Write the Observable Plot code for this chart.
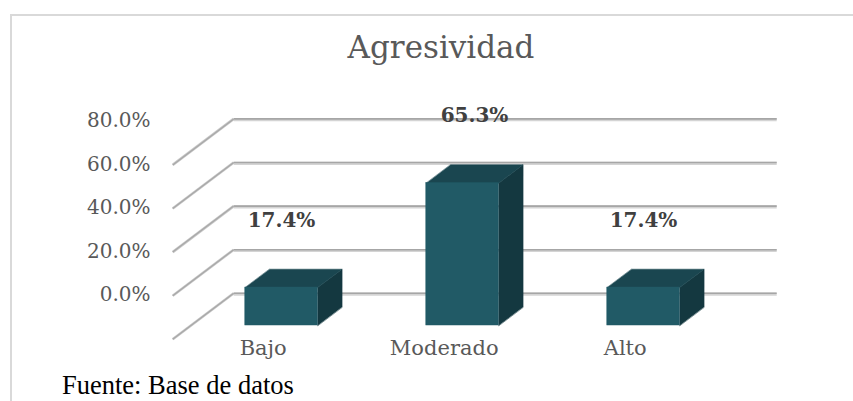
<!DOCTYPE html>
<html>
<head>
<meta charset="utf-8">
<script src="https://cdn.jsdelivr.net/npm/d3@7"></script>
<script src="https://cdn.jsdelivr.net/npm/@observablehq/plot@0.6"></script>
<style>
  html, body { margin: 0; padding: 0; background: #fff; }
  #page { position: relative; width: 853px; height: 401px; overflow: hidden; background: #fff; }
  #frame { position: absolute; left: 10px; top: 14px; width: 900px; height: 500px; border: 2px solid #d9d9d9; box-sizing: border-box; }
  #title { position: absolute; left: 0; width: 882px; top: 32px; text-align: center; font-family: "DejaVu Serif", serif; font-size: 31px; line-height: 1; color: #595959; }
  #chart { position: absolute; left: 0; top: 75px; }
  #caption { position: absolute; left: 62px; top: 372px; font-family: "Liberation Serif", "Times New Roman", serif; font-size: 26.5px; line-height: 1; color: #000; white-space: nowrap; }
</style>
</head>
<body>
<div id="page">
  <div id="frame"></div>
  <div id="title">Agresividad</div>
  <div id="chart"></div>
  <div id="caption">Fuente: Base de datos</div>
</div>
<script>
// ---- data ----
const categories = ["Bajo", "Moderado", "Alto"];
const values = [17.4, 65.3, 17.4];
const yTicks = [0, 20, 40, 60, 80];

// ---- geometry / style ----
const W = 853, H = 295;
const xDomain = [-0.5, 2.5], xRange = [190.5, 733.5];
const yDomain = [0, 80], yRange = [250, 250 - 80 * 2.18];
const kx = (xRange[1] - xRange[0]) / (xDomain[1] - xDomain[0]);
const ky = (yRange[0] - yRange[1]) / (yDomain[1] - yDomain[0]);
const DEPTH_X = 61, DEPTH_Y = 46;           // full depth of the 3D box in pixels
const proj = (d) => ({dx: d * DEPTH_X / kx, dy: d * DEPTH_Y / ky}); // depth offset in data units
const FRONT = proj(-0.3), BACK = proj(0.7), BAR = proj(0.4);
const HALF = 0.2;

const bars = categories.map((c, i) => ({cat: c, i, v: values[i]}));
const sideFaces = bars.flatMap(b => [
  {cat: b.cat, x: b.i + HALF, y: 0},
  {cat: b.cat, x: b.i + HALF, y: b.v},
  {cat: b.cat, x: b.i + HALF + BAR.dx, y: b.v + BAR.dy},
  {cat: b.cat, x: b.i + HALF + BAR.dx, y: BAR.dy}
]);
const topFaces = bars.flatMap(b => [
  {cat: b.cat, x: b.i - HALF, y: b.v},
  {cat: b.cat, x: b.i + HALF, y: b.v},
  {cat: b.cat, x: b.i + HALF + BAR.dx, y: b.v + BAR.dy},
  {cat: b.cat, x: b.i - HALF + BAR.dx, y: b.v + BAR.dy}
]);
const maxIdx = values.indexOf(d3.max(values));

const chart = Plot.plot({
  width: W,
  height: H,
  marginLeft: xRange[0],
  marginRight: W - xRange[1],
  marginTop: yRange[1],
  marginBottom: H - yRange[0],
  x: {type: "linear", domain: xDomain, range: xRange, axis: null},
  y: {type: "linear", domain: yDomain, range: yRange, axis: null},
  style: {background: "transparent", overflow: "visible"},
  marks: [
    // back wall gridlines (shadow + line)
    Plot.link(yTicks, {x1: xDomain[0] + BACK.dx, x2: xDomain[1] + BACK.dx, y1: d => d + BACK.dy, y2: d => d + BACK.dy,
      stroke: "#d4d4d4", strokeWidth: 3.2, dy: 0.8}),
    Plot.link(yTicks, {x1: xDomain[0] + BACK.dx, x2: xDomain[1] + BACK.dx, y1: d => d + BACK.dy, y2: d => d + BACK.dy,
      stroke: "#a6a6a6", strokeWidth: 1.6}),
    // side wall gridlines
    Plot.link(yTicks, {x1: xDomain[0] + FRONT.dx, y1: d => d + FRONT.dy, x2: xDomain[0] + BACK.dx, y2: d => d + BACK.dy,
      stroke: "#c8c8c8", strokeWidth: 2.6}),
    Plot.link(yTicks, {x1: xDomain[0] + FRONT.dx, y1: d => d + FRONT.dy, x2: xDomain[0] + BACK.dx, y2: d => d + BACK.dy,
      stroke: "#a8a8a8", strokeWidth: 1.2}),
    // y axis labels
    Plot.axisY({ticks: yTicks, tickSize: 0, tickPadding: 40.5, dy: -30.5,
      tickFormat: d => d.toFixed(1) + "%", fontSize: 20, fontFamily: "DejaVu Serif", fill: "#595959"}),
    // bars: side faces, top faces, front faces
    Plot.line(sideFaces, {x: "x", y: "y", z: "cat", fill: "#143840", stroke: "#143840", strokeWidth: 0.5, curve: "linear-closed"}),
    Plot.line(topFaces, {x: "x", y: "y", z: "cat", fill: "#1a4650", stroke: "#1a4650", strokeWidth: 0.5, curve: "linear-closed"}),
    Plot.rectY(bars, {x1: d => d.i - HALF, x2: d => d.i + HALF, y1: 0, y2: "v", fill: "#215a66", stroke: "#215a66", strokeWidth: 0.5}),
    // category labels on the front floor edge
    Plot.text(bars, {x: d => d.i + FRONT.dx, y: FRONT.dy, text: "cat", lineAnchor: "bottom", dy: 15.3,
      fontSize: 21, fontFamily: "DejaVu Serif", fill: "#595959"}),
    // data labels
    Plot.text(bars.filter(d => d.i !== maxIdx), {x: "i", y: "v", text: d => d.v.toFixed(1) + "%", dy: -66.5, lineAnchor: "middle",
      fontSize: 20, fontWeight: "bold", fontFamily: "DejaVu Serif", fill: "#404040"}),
    Plot.text(bars.filter(d => d.i === maxIdx), {x: "i", y: "v", text: d => d.v.toFixed(1) + "%", dy: -67.5, dx: 12, lineAnchor: "middle",
      fontSize: 20, fontWeight: "bold", fontFamily: "DejaVu Serif", fill: "#404040"})
  ]
});
document.getElementById("chart").appendChild(chart);
</script>
</body>
</html>
